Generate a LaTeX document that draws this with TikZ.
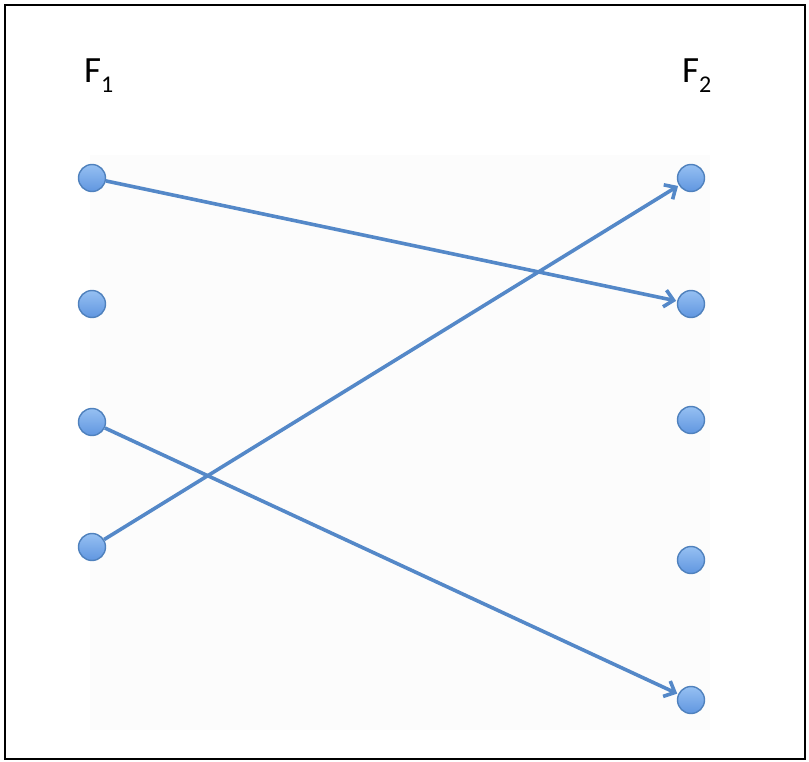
\documentclass[tikz,border=0pt]{standalone}
\usepackage{fontspec}
\setmainfont{Carlito}
\usetikzlibrary{arrows.meta}
\definecolor{puntoazul}{RGB}{79, 129, 189}
\definecolor{puntoclaro}{RGB}{150, 192, 242}
\definecolor{puntomedio}{RGB}{96, 150, 224}
\definecolor{flechaazul}{RGB}{84, 136, 200}

\begin{document}
\begin{tikzpicture}[x=1pt, y=-1pt,
                punto/.style={
                    circle,
                    minimum size=27pt,
                    inner sep=0pt,
                    top color=puntoclaro,
                    bottom color=puntomedio,
                    draw=puntoazul,
                    line width=1.4pt
                },
                flecha/.style={
                    draw=flechaazul,
                    line width=3.6pt,
                    -{Straight Barb[length=9pt, width=17pt]},
                    shorten >=1pt
                },
                etiqueta/.style={
                    anchor=base west,
                    inner sep=0pt,
                    font=\fontsize{37}{40}\selectfont
                }
            ]
                \useasboundingbox (0,0) rectangle (809,762);
                \draw[line width=2pt] (5,5) rectangle (805,759);
                \fill[black!1] (90,155) rectangle (710,730);
                \node[etiqueta] (f1) at (84,83) {F\raisebox{-10pt}{\fontsize{24}{24}\selectfont 1}};
                \node[etiqueta] (f2) at (682,83) {F\raisebox{-10pt}{\fontsize{24}{24}\selectfont 2}};
                \node[punto] (a1) at (92,178) {};
                \node[punto] (a2) at (92,304) {};
                \node[punto] (a3) at (92,422) {};
                \node[punto] (a4) at (92,547) {};
                \node[punto] (b1) at (691,178) {};
                \node[punto] (b2) at (691,304) {};
                \node[punto] (b3) at (691,420) {};
                \node[punto] (b4) at (691,560) {};
                \node[punto] (b5) at (691,700) {};
                \draw[flecha] (a1) -- (b2);
                \draw[flecha] (a4) -- (b1);
                \draw[flecha] (a3) -- (b5);
            \end{tikzpicture}
\end{document}
